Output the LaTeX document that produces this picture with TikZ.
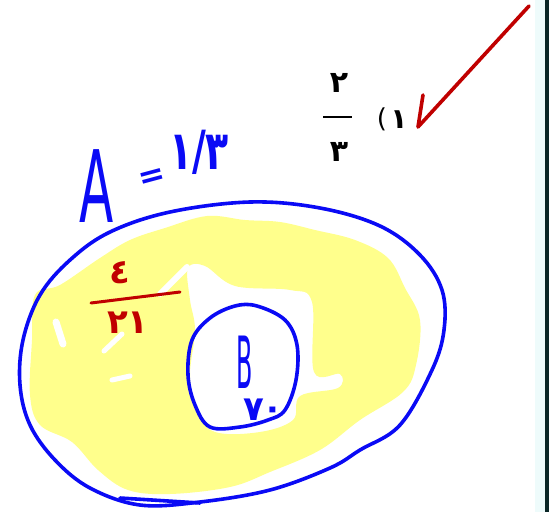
\documentclass[tikz,border=0pt]{standalone}
\usepackage{fontspec}
\newfontfamily\fa{DejaVu Sans}
\definecolor{penblue}{HTML}{0A0AF5}
\definecolor{penred}{HTML}{C00000}
\definecolor{hl}{HTML}{FFFF8C}
\definecolor{stripc}{HTML}{EEFBFB}
\definecolor{stripd}{HTML}{0A2626}
\begin{document}
\begin{tikzpicture}[x=1pt,y=-1pt,
  pen/.style={line width=3.6pt,line cap=round,line join=round},
  bluepen/.style={pen,draw=penblue},
  redpen/.style={pen,draw=penred},
  printed/.style={inner sep=0pt,font=\fa\bfseries,text=black},
  handb/.style={inner sep=0pt,font=\fa\bfseries,text=penblue},
  handr/.style={inner sep=0pt,font=\fa\bfseries,text=penred}]
\useasboundingbox (0,0) rectangle (549,512);
\fill[white] (0,0) rectangle (549,512);
% right edge strip
\fill[stripc] (535,0) rectangle (545,512);
\fill[stripd] (545,0) rectangle (549,512);
% yellow highlight (ring)
\fill[hl,even odd rule]
  plot[smooth cycle,tension=0.6] coordinates {(130,240) (165,228) (207,216) (245,220) (280,222) (315,230) (355,240) (388,258) (405,288) (420,320) (416,365) (403,392) (360,420) (320,450) (270,472) (230,487) (170,494) (128,490) (98,470) (72,442) (40,425) (30,395) (32,340) (35,295) (60,285) (100,258)}
  plot[smooth cycle,tension=0.6] coordinates {(188,268) (205,266) (235,286) (290,290) (312,302) (314,372) (340,374) (338,388) (300,396) (293,420) (260,432) (215,432) (196,410) (190,375) (195,330) (190,300)};
% white gaps in the highlight
\draw[white,line width=6pt,line cap=round] (187,267) -- (160,294);
\draw[white,line width=5pt,line cap=round] (122,334) -- (104,351);
\draw[white,line width=7pt,line cap=round] (56,322) -- (63,344);
\draw[white,line width=5pt,line cap=round] (112,380) -- (130,376);
% outer set A
\coordinate (ob) at (200,503);
\draw[bluepen] plot[smooth cycle,tension=0.6] coordinates {(250,202) (320,208) (380,226) (420,255) (442,290) (444,330) (432,370) (400,425) (360,450) (330,468) (270,490) (200,502) (140,505) (90,488) (55,460) (30,425) (20,385) (23,340) (40,295) (70,260) (110,232) (170,212)};
\coordinate (os) at (120,498);
\draw[bluepen] (os) -- (ob);
% inner set B
\draw[bluepen] plot[smooth cycle,tension=0.6] coordinates {(257,306) (285,320) (297,345) (296,380) (285,410) (268,420) (240,427) (210,427) (195,405) (188,375) (192,340) (210,318) (235,306)};
% red check mark
\coordinate (c1) at (423,95);
\coordinate (c2) at (418,127);
\coordinate (c3) at (529,6);
\draw[redpen] (c1) -- (c2) -- (c3);
% printed fraction and option number
\node[printed,font=\fa\bfseries\fontsize{30}{30}\selectfont] (n2) at (339,83) {۲};
\coordinate (fb1) at (323,117);
\coordinate (fb2) at (352,117);
\draw[line width=2pt] (fb1) -- (fb2);
\node[printed,font=\fa\bfseries\fontsize{30}{30}\selectfont] (n3) at (339,152) {۳};
\node[printed,font=\fa\fontsize{26}{26}\selectfont] (par) at (382,119) {(};
\node[printed,font=\fa\bfseries\fontsize{28}{28}\selectfont] (n1) at (399,120) {۱};
% handwritten A = 1/3
\node[handb,font=\fa\fontsize{100}{100}\selectfont] (A) at (97,186) {\scalebox{0.5}[1]{A}};
\node[handb,font=\fa\bfseries\fontsize{32}{32}\selectfont,rotate=15] (eq) at (152,179) {=};
\node[handb,font=\fa\bfseries\fontsize{54}{54}\selectfont] (frac) at (199,152) {\scalebox{0.7}[1]{۱/۳}};
% red fraction 4/21
\node[handr,font=\fa\bfseries\fontsize{34}{34}\selectfont] (r4) at (120,273) {٤};
\coordinate (rb1) at (91,303);
\coordinate (rb2) at (180,292);
\draw[redpen,line width=3pt] (rb1) -- (rb2);
\node[handr,font=\fa\bfseries\fontsize{34}{34}\selectfont] (r21) at (128,323) {٢١};
% B label
\node[handb,font=\fa\fontsize{72}{72}\selectfont,text height=52pt,text depth=0pt] (B) at (245,362) {\scalebox{0.33}[1]{B}};
\node[handb,font=\fa\bfseries\fontsize{34}{34}\selectfont,text height=25pt,text depth=0pt] (B7) at (254,408) {۷};
\node[handb,font=\fa\bfseries\fontsize{34}{34}\selectfont,text height=10pt,text depth=0pt] (B0) at (273,414) {۰};
\end{tikzpicture}
\end{document}
